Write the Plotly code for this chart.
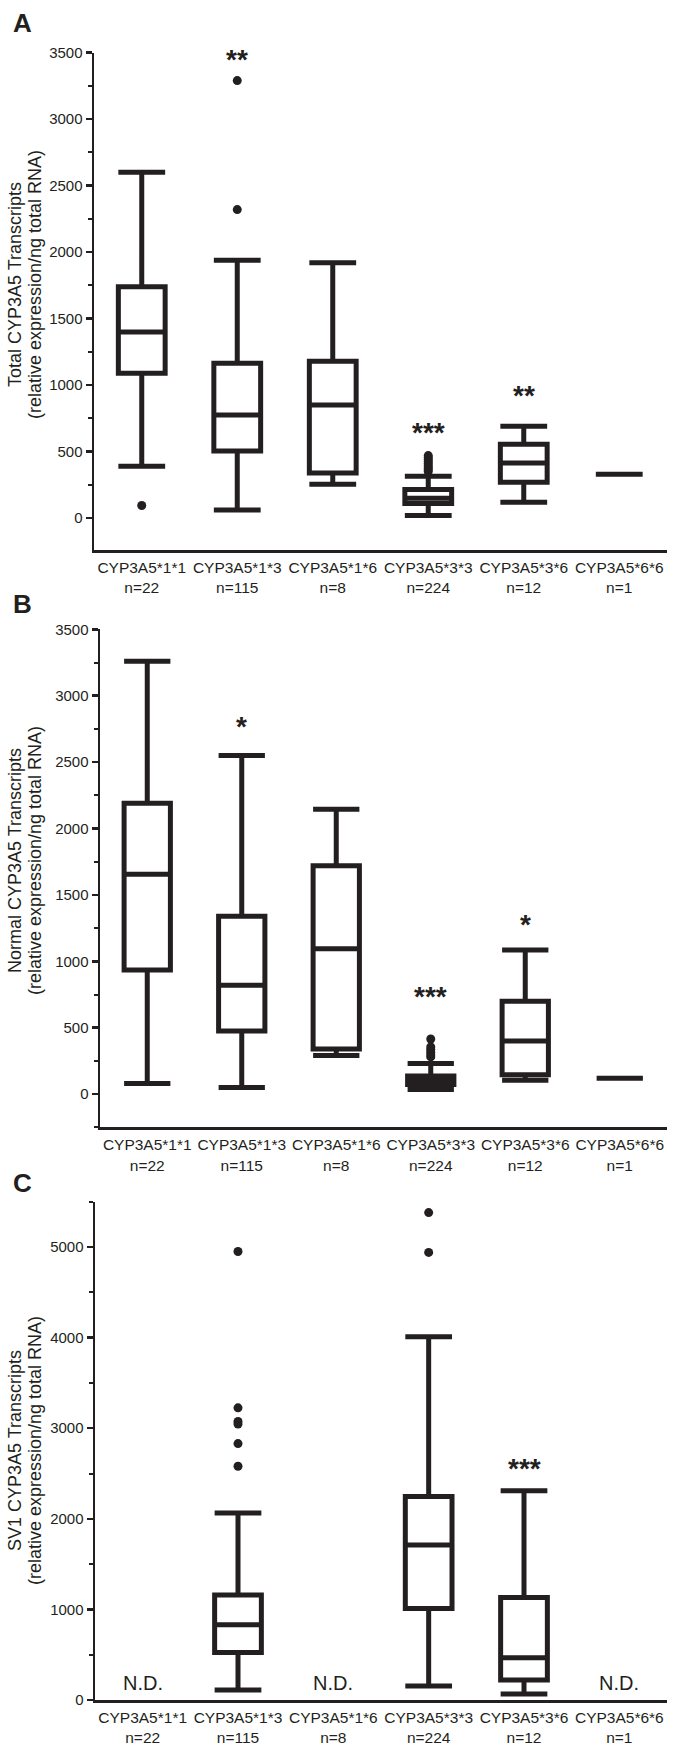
import plotly.graph_objects as go

# ---------------- data ----------------
categories = ["CYP3A5*1*1", "CYP3A5*1*3", "CYP3A5*1*6", "CYP3A5*3*3", "CYP3A5*3*6", "CYP3A5*6*6"]
n_labels = ["n=22", "n=115", "n=8", "n=224", "n=12", "n=1"]

# Panel A: Total CYP3A5 transcripts
A_q1 = [1090, 505, 340, 110, 270, 330]
A_median = [1400, 775, 850, 150, 415, 330]
A_q3 = [1740, 1165, 1180, 215, 555, 330]
A_low = [390, 60, 255, 20, 120, 330]
A_high = [2600, 1940, 1920, 315, 690, 330]
A_out_11 = [95]
A_out_13 = [2320, 3290]
A_out_33 = [350, 365, 380, 395, 410, 425, 440, 455, 470]
A_stars = {"CYP3A5*1*3": "**", "CYP3A5*3*3": "***", "CYP3A5*3*6": "**"}
A_star_y = {"CYP3A5*1*3": 3450, "CYP3A5*3*3": 640, "CYP3A5*3*6": 925}

# Panel B: Normal CYP3A5 transcripts
B_q1 = [935, 475, 340, 73, 145, 120]
B_median = [1655, 820, 1095, 105, 400, 120]
B_q3 = [2190, 1340, 1720, 137, 700, 120]
B_low = [80, 50, 290, 35, 105, 120]
B_high = [3260, 2550, 2145, 230, 1085, 120]
B_out_33 = [280, 295, 315, 335, 355, 415]
B_stars = {"CYP3A5*1*3": "*", "CYP3A5*3*3": "***", "CYP3A5*3*6": "*"}
B_star_y = {"CYP3A5*1*3": 2767, "CYP3A5*3*3": 738, "CYP3A5*3*6": 1280}

# Panel C: SV1 CYP3A5 transcripts (N.D. for *1*1, *1*6, *6*6)
C_cats = ["CYP3A5*1*3", "CYP3A5*3*3", "CYP3A5*3*6"]
C_q1 = [525, 1010, 220]
C_median = [830, 1710, 465]
C_q3 = [1160, 2245, 1130]
C_low = [110, 155, 65]
C_high = [2065, 4010, 2310]
C_out_13 = [2580, 2830, 3045, 3075, 3225, 4950]
C_out_33 = [4940, 5380]
C_nd = ["CYP3A5*1*1", "CYP3A5*1*6", "CYP3A5*6*6"]
C_nd_y = 190
C_stars = {"CYP3A5*3*6": "***"}
C_star_y = {"CYP3A5*3*6": 2555}

# ---------------- style ----------------
INK = "#231f20"
SANS = "Liberation Sans, Arial, Helvetica, sans-serif"
W, H = 673, 1745


def fy(px):
    return 1 - px / H


def fx(px):
    return px / W


pos = {c: i + 1 for i, c in enumerate(categories)}
ticktext = [f"{c}<br>{n}" for c, n in zip(categories, n_labels)]

panels = [
    dict(ax="", letter="A", x0=94, x1=667, top=52.7, bot=550, yr=[-240, 3500], dtick=500, minor=250,
         title1="Total CYP3A5 Transcripts", tcenter=285, lpos=(22, 23)),
    dict(ax="2", letter="B", x0=100, x1=667, top=629.3, bot=1127.3, yr=[-250, 3500], dtick=500, minor=250,
         title1="Normal CYP3A5 Transcripts", tcenter=861, lpos=(23, 604)),
    dict(ax="3", letter="C", x0=95, x1=667, top=1201.7, bot=1700, yr=[0, 5500], dtick=1000, minor=500,
         title1="SV1 CYP3A5 Transcripts", tcenter=1451, lpos=(23, 1183)),
]

fig = go.Figure()


def add_box(ax, xs, q1, med, q3, lo, hi):
    fig.add_trace(go.Box(
        x=xs, q1=q1, median=med, q3=q3, lowerfence=lo, upperfence=hi,
        width=0.49, whiskerwidth=1, boxpoints=False,
        line=dict(color=INK, width=5), fillcolor="white",
        xaxis="x" + ax, yaxis="y" + ax, showlegend=False, hoverinfo="skip"))


def add_out(ax, cat, vals):
    fig.add_trace(go.Scatter(
        x=[pos[cat]] * len(vals), y=vals, mode="markers",
        marker=dict(size=9, color=INK, line=dict(width=0)),
        xaxis="x" + ax, yaxis="y" + ax, showlegend=False, hoverinfo="skip"))


add_box("", [pos[c] for c in categories], A_q1, A_median, A_q3, A_low, A_high)
add_out("", "CYP3A5*1*1", A_out_11)
add_out("", "CYP3A5*1*3", A_out_13)
add_out("", "CYP3A5*3*3", A_out_33)

add_box("2", [pos[c] for c in categories], B_q1, B_median, B_q3, B_low, B_high)
add_out("2", "CYP3A5*3*3", B_out_33)

add_box("3", [pos[c] for c in C_cats], C_q1, C_median, C_q3, C_low, C_high)
add_out("3", "CYP3A5*1*3", C_out_13)
add_out("3", "CYP3A5*3*3", C_out_33)

layout = dict(
    width=W, height=H, margin=dict(l=0, r=0, t=0, b=0),
    paper_bgcolor="white", plot_bgcolor="white",
    font=dict(family=SANS, color=INK), template="none", showlegend=False,
)
annotations = []

for p in panels:
    ax = p["ax"]
    layout["xaxis" + ax] = dict(
        domain=[fx(p["x0"]), fx(p["x1"])], range=[0.5, 6.5], anchor="y" + ax,
        tickmode="array", tickvals=list(range(1, 7)), ticktext=ticktext, tickangle=0,
        ticklabeloverflow="allow", ticklabelstandoff=2,
        ticks="", showline=True, linecolor=INK, linewidth=2.5, showgrid=False, zeroline=False,
        tickfont=dict(family=SANS, size=15.5, color=INK), automargin=False, fixedrange=True)
    layout["yaxis" + ax] = dict(
        domain=[fy(p["bot"]), fy(p["top"])], range=p["yr"], anchor="x" + ax,
        tick0=0, dtick=p["dtick"], ticks="outside", ticklen=6, tickwidth=2.5, tickcolor=INK,
        minor=dict(ticks="outside", ticklen=4, tickwidth=2, dtick=p["minor"], tick0=0, tickcolor=INK, showgrid=False),
        showline=True, linecolor=INK, linewidth=2.5, showgrid=False, zeroline=False,
        tickfont=dict(family=SANS, size=15, color=INK), automargin=False, fixedrange=True)
    # panel letter
    annotations.append(dict(text="<b>" + p["letter"] + "</b>", x=fx(p["lpos"][0]), y=fy(p["lpos"][1]),
                            xref="paper", yref="paper", xanchor="center", yanchor="middle",
                            showarrow=False, font=dict(family=SANS, size=26, color=INK)))
    # y title (two lines)
    annotations.append(dict(text=p["title1"], x=fx(15), y=fy(p["tcenter"]), xref="paper", yref="paper",
                            textangle=-90, xanchor="center", yanchor="middle", showarrow=False,
                            font=dict(family=SANS, size=18, color=INK)))
    annotations.append(dict(text="(relative expression/ng total RNA)", x=fx(35), y=fy(p["tcenter"]),
                            xref="paper", yref="paper", textangle=-90, xanchor="center", yanchor="middle",
                            showarrow=False, font=dict(family=SANS, size=18, color=INK)))

for ax, stars, ys in [("", A_stars, A_star_y), ("2", B_stars, B_star_y), ("3", C_stars, C_star_y)]:
    for cat, s in stars.items():
        annotations.append(dict(text="<b>" + s + "</b>", x=pos[cat], y=ys[cat], xref="x" + ax, yref="y" + ax,
                                xanchor="center", yanchor="middle", showarrow=False,
                                font=dict(family=SANS, size=28, color=INK)))

for cat in C_nd:
    annotations.append(dict(text="N.D.", x=pos[cat], y=C_nd_y, xref="x3", yref="y3",
                            xanchor="center", yanchor="middle", showarrow=False,
                            font=dict(family=SANS, size=20, color=INK)))

layout["annotations"] = annotations
fig.update_layout(**layout)

# remove the default 8px page margin so the 673x1745 figure fills the window exactly
page_css = ("document.body.style.margin='0px';document.body.style.padding='0px';"
            "document.body.style.overflow='hidden';document.documentElement.style.overflow='hidden';")
fig.write_html("out.html", post_script=page_css, config={"displayModeBar": False, "staticPlot": True})
